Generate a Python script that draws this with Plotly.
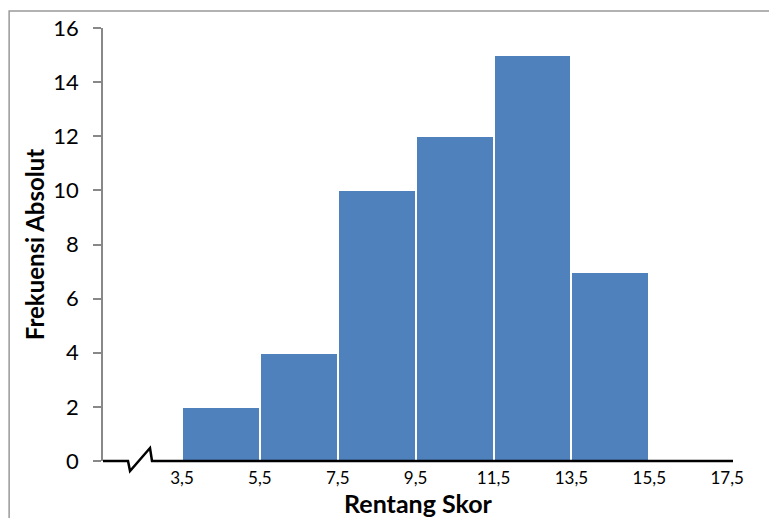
import plotly.graph_objects as go

# Data
bin_lower = [3.5, 5.5, 7.5, 9.5, 11.5, 13.5]
bin_upper = [5.5, 7.5, 9.5, 11.5, 13.5, 15.5]
frequency = [2, 4, 10, 12, 15, 7]
x_tick_values = [3.5, 5.5, 7.5, 9.5, 11.5, 13.5, 15.5, 17.5]
x_tick_labels = ["3,5", "5,5", "7,5", "9,5", "11,5", "13,5", "15,5", "17,5"]
y_tick_values = [0, 2, 4, 6, 8, 10, 12, 14, 16]

centers = [(a + b) / 2 for a, b in zip(bin_lower, bin_upper)]
widths = [b - a for a, b in zip(bin_lower, bin_upper)]

FONT = "Lato, 'Open Sans', sans-serif"
XMIN, XMAX = 1.47, 17.65

fig = go.Figure()
fig.add_trace(go.Bar(
    x=centers, y=frequency, width=widths,
    marker=dict(color="#4F81BD", line=dict(color="white", width=2)),
    hoverinfo="y",
))

# x axis line with break (decoration, paper coords so it is not clipped)
fig.add_shape(type="path",
              path="M 0,0 L 0.0397,0 L 0.0429,-0.023 L 0.0746,0.030 L 0.0778,0 L 1,0",
              xref="paper", yref="paper", line=dict(color="black", width=2.5))
# chart frame
fig.add_shape(type="rect", xref="paper", yref="paper",
              x0=-0.149, x1=1.2, y0=-0.3, y1=1.039,
              line=dict(color="#999999", width=1.5), layer="below")

fig.update_layout(
    width=769, height=518,
    margin=dict(l=103, r=36, t=28, b=55),
    paper_bgcolor="white", plot_bgcolor="white",
    showlegend=False, bargap=0,
    font=dict(family=FONT, color="black"),
    xaxis=dict(range=[XMIN, XMAX], tickvals=x_tick_values, ticktext=x_tick_labels,
               showgrid=False, zeroline=False, showline=False, ticks="",
               tickfont=dict(size=17), ticklabelstandoff=5,
               title=dict(text="<b>Rentang Skor</b>", font=dict(size=25), standoff=0)),
    yaxis=dict(range=[0, 16], tickvals=y_tick_values, showgrid=False, zeroline=False,
               showline=True, linecolor="#888888", linewidth=1.5,
               ticks="outside", ticklen=8, tickcolor="#888888", tickwidth=1.5,
               tickfont=dict(size=22), ticklabelstandoff=10,
               title=dict(text="<b>Frekuensi Absolut</b>", font=dict(size=24), standoff=2)),
)

fig.write_html("out.html")
